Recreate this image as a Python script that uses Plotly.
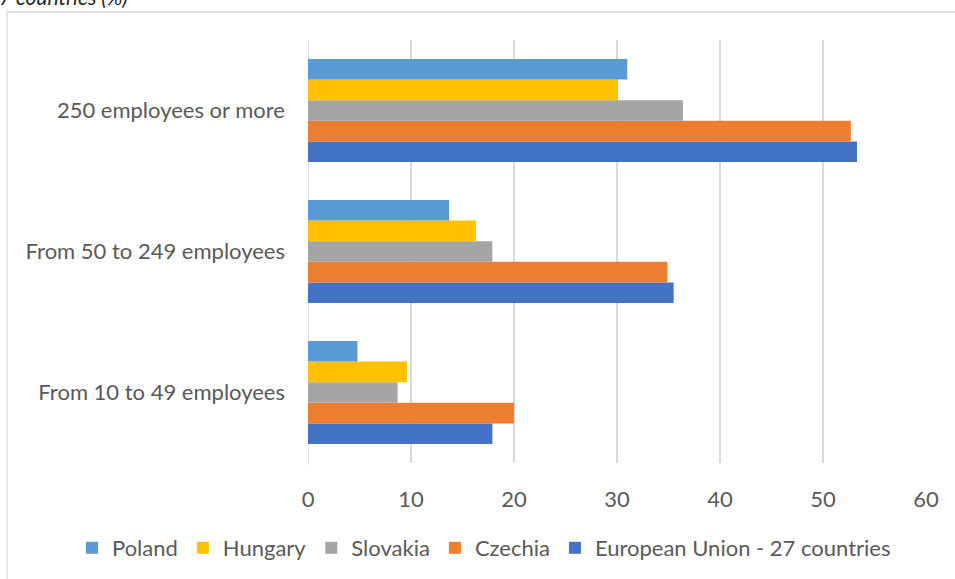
import plotly.graph_objects as go

# Enterprise size classes (bottom to top on the chart)
categories = ["From 10 to 49 employees", "From 50 to 249 employees", "250 employees or more"]

# Share of enterprises (%) per size class, same order as categories
poland = [4.8, 13.7, 31.0]
hungary = [9.6, 16.3, 30.1]
slovakia = [8.7, 17.9, 36.4]
czechia = [20.0, 34.9, 52.7]
eu27 = [17.9, 35.5, 53.3]

tick_values = [0, 10, 20, 30, 40, 50, 60]

series = [
    ("European Union - 27 countries", eu27, "#4472C4"),
    ("Czechia", czechia, "#ED7D31"),
    ("Slovakia", slovakia, "#A5A5A5"),
    ("Hungary", hungary, "#FFC000"),
    ("Poland", poland, "#5B9BD5"),
]

FONT = "Lato"
TEXT = "#595959"
SIZE = 22

fig = go.Figure()
for name, vals, color in series:
    fig.add_trace(go.Bar(
        y=categories, x=vals, name=name, orientation="h",
        marker=dict(color=color, line=dict(width=0)),
    ))

W, H = 955, 579
L, R, T, B = 308, 29, 40, 116
pw, ph = W - L - R, H - T - B

def px_x(p):
    return (p - L) / pw

def px_y(p):
    return (H - B - p) / ph

fig.update_layout(
    width=W, height=H,
    margin=dict(l=L, r=R, t=T, b=B, pad=0, autoexpand=False),
    paper_bgcolor="white", plot_bgcolor="white",
    barmode="group", bargap=0.27, bargroupgap=0,
    font=dict(family=FONT, size=SIZE, color=TEXT),
    showlegend=True,
    legend=dict(
        orientation="h", traceorder="reversed",
        x=px_x(72), xanchor="left",
        y=px_y(548), yanchor="middle",
        font=dict(family=FONT, size=SIZE, color=TEXT),
        itemwidth=30, bgcolor="rgba(0,0,0,0)",
    ),
    xaxis=dict(
        range=[0, 60], tickvals=tick_values, showgrid=True,
        gridcolor="#D9D9D9", gridwidth=1.5, zeroline=False,
        showline=False, ticks="", ticklabelstandoff=21,
        tickfont=dict(family=FONT, size=SIZE, color=TEXT), fixedrange=True,
    ),
    yaxis=dict(
        showgrid=False, zeroline=False, showline=False, ticks="",
        ticklabelstandoff=22,
        tickfont=dict(family=FONT, size=SIZE, color=TEXT),
    ),
    shapes=[dict(
        type="rect", xref="paper", yref="paper",
        x0=px_x(7), x1=px_x(1000), y0=px_y(650), y1=px_y(12),
        line=dict(color="#D9D9D9", width=1.3), fillcolor="rgba(0,0,0,0)",
        layer="below",
    ), dict(
        type="line", xref="x", yref="paper", x0=0, x1=0, y0=-0.005, y1=1,
        line=dict(color="#D9D9D9", width=1.5), layer="below",
    )],
    annotations=[dict(
        text="<i>7 countries (%)</i>", xref="paper", yref="paper",
        x=px_x(-3), xanchor="left", y=px_y(11), yanchor="bottom",
        showarrow=False, font=dict(family=FONT, size=21, color="#262626"),
    )],
)

fig.write_html("out.html")
